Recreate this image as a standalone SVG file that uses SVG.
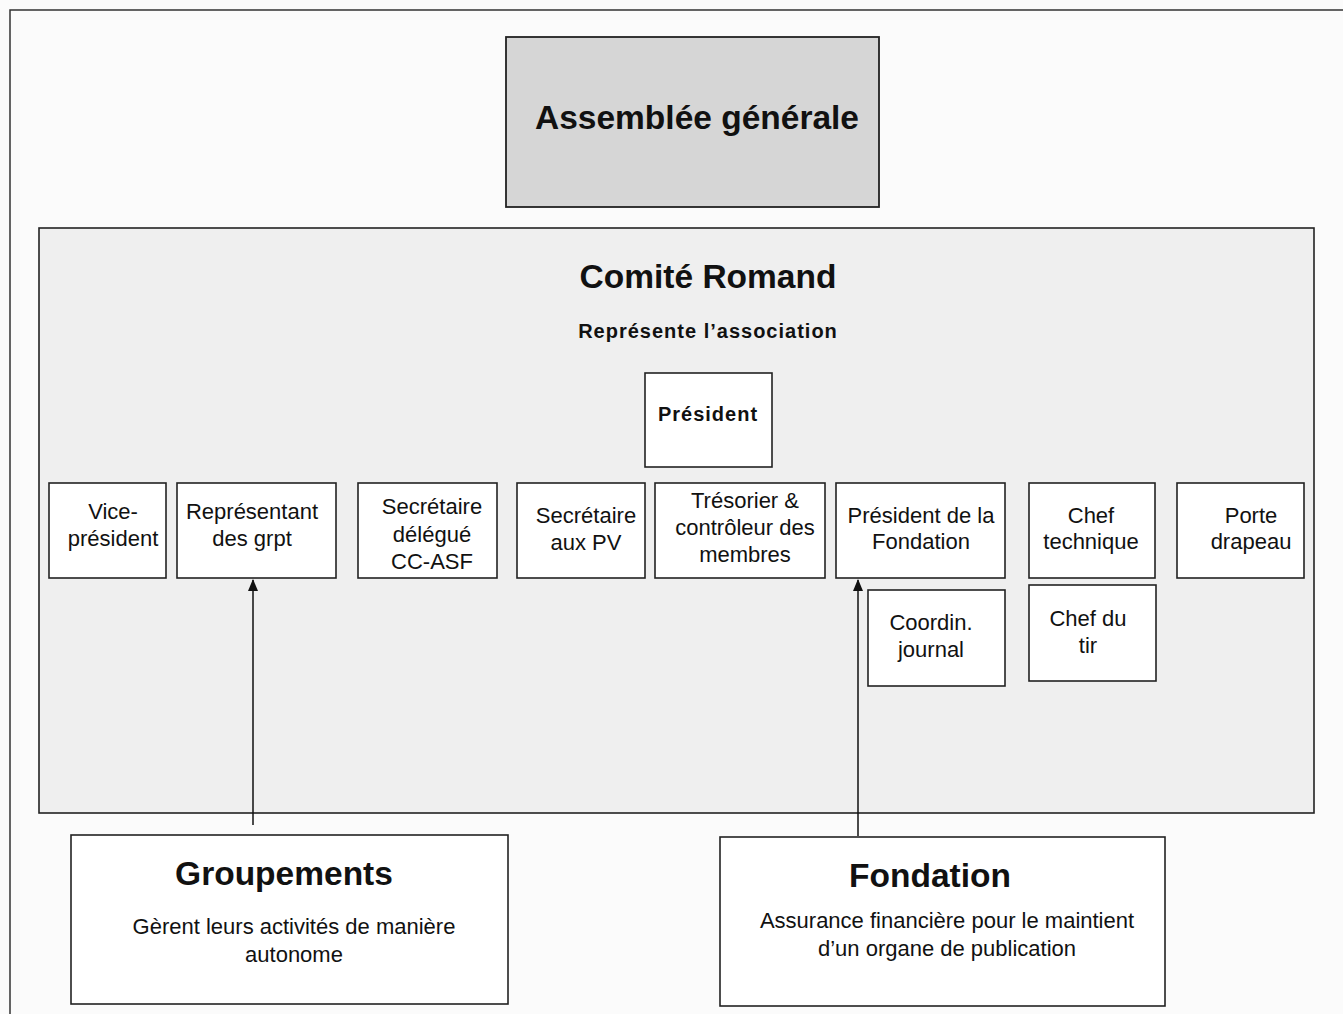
<svg xmlns="http://www.w3.org/2000/svg" width="1343" height="1014" viewBox="0 0 1343 1014">
<defs>
<style>
.t{font-family:"Liberation Sans",Arial,sans-serif;fill:#111;text-anchor:middle}
.big{font-size:33.5px;font-weight:bold}
.sub{font-size:20px;font-weight:bold;letter-spacing:1px}
.lbl{font-size:22px}
.desc{font-size:22px}
.box{fill:#fff;stroke:#222;stroke-width:1.6}
.conn{stroke:#111;stroke-width:1.5;fill:none}
</style>
<marker id="ah" markerWidth="12" markerHeight="10" refX="11" refY="5" orient="auto" markerUnits="userSpaceOnUse" viewBox="0 0 12 10">
<path d="M0,0 L12,5 L0,10 Z" fill="#111"/>
</marker>
</defs>
<rect x="0" y="0" width="1343" height="1014" fill="#fbfbfb"/>
<path d="M10,1014 L10,10 L1343,10" fill="none" stroke="#333" stroke-width="1.5"/>
<g id="assemblee">
<rect x="506" y="37" width="373" height="170" fill="#d6d6d6" stroke="#222" stroke-width="1.8"/>
<text class="t big" x="697" y="129">Assemblée générale</text>
</g>
<g id="comite">
<rect x="39" y="228" width="1275" height="585" fill="#efefef" stroke="#222" stroke-width="1.6"/>
<text class="t big" x="708" y="288">Comité Romand</text>
<text class="t sub" x="708" y="338">Représente l’association</text>
</g>
<g id="president">
<rect class="box" x="645" y="373" width="127" height="94"/>
<text class="t sub" x="708" y="421">Président</text>
</g>
<g id="vice">
<rect class="box" x="49" y="483" width="117" height="95"/>
<text class="t lbl" x="113" y="519">Vice-</text>
<text class="t lbl" x="113" y="546">président</text>
</g>
<g id="representant">
<rect class="box" x="177" y="483" width="159" height="95"/>
<text class="t lbl" x="252" y="519">Représentant</text>
<text class="t lbl" x="252" y="546">des grpt</text>
</g>
<g id="secdelegue">
<rect class="box" x="358" y="483" width="139" height="95"/>
<text class="t lbl" x="432" y="514">Secrétaire</text>
<text class="t lbl" x="432" y="542">délégué</text>
<text class="t lbl" x="432" y="569">CC-ASF</text>
</g>
<g id="secpv">
<rect class="box" x="517" y="483" width="128" height="95"/>
<text class="t lbl" x="586" y="523">Secrétaire</text>
<text class="t lbl" x="586" y="550">aux PV</text>
</g>
<g id="tresorier">
<rect class="box" x="655" y="483" width="170" height="95"/>
<text class="t lbl" x="745" y="508">Trésorier &amp;</text>
<text class="t lbl" x="745" y="535">contrôleur des</text>
<text class="t lbl" x="745" y="562">membres</text>
</g>
<g id="presfondation">
<rect class="box" x="836" y="483" width="169" height="95"/>
<text class="t lbl" x="921" y="523">Président de la</text>
<text class="t lbl" x="921" y="549">Fondation</text>
</g>
<g id="cheftech">
<rect class="box" x="1029" y="483" width="126" height="95"/>
<text class="t lbl" x="1091" y="523">Chef</text>
<text class="t lbl" x="1091" y="549">technique</text>
</g>
<g id="porte">
<rect class="box" x="1177" y="483" width="127" height="95"/>
<text class="t lbl" x="1251" y="523">Porte</text>
<text class="t lbl" x="1251" y="549">drapeau</text>
</g>
<g id="coordin">
<rect class="box" x="868" y="590" width="137" height="96"/>
<text class="t lbl" x="931" y="630">Coordin.</text>
<text class="t lbl" x="931" y="657">journal</text>
</g>
<g id="chefdutir">
<rect class="box" x="1029" y="585" width="127" height="96"/>
<text class="t lbl" x="1088" y="626">Chef du</text>
<text class="t lbl" x="1088" y="653">tir</text>
</g>
<g id="groupements">
<rect class="box" x="71" y="835" width="437" height="169"/>
<text class="t big" x="284" y="885">Groupements</text>
<text class="t desc" x="294" y="934">Gèrent leurs activités de manière</text>
<text class="t desc" x="294" y="962">autonome</text>
</g>
<g id="fondation">
<rect class="box" x="720" y="837" width="445" height="169"/>
<text class="t big" x="930" y="887">Fondation</text>
<text class="t desc" x="947" y="928">Assurance financière pour le maintient</text>
<text class="t desc" x="947" y="956">d’un organe de publication</text>
</g>
<g id="connectors">
<line class="conn" x1="253" y1="825" x2="253" y2="580" marker-end="url(#ah)"/>
<line class="conn" x1="858" y1="836" x2="858" y2="580" marker-end="url(#ah)"/>
</g>
</svg>
